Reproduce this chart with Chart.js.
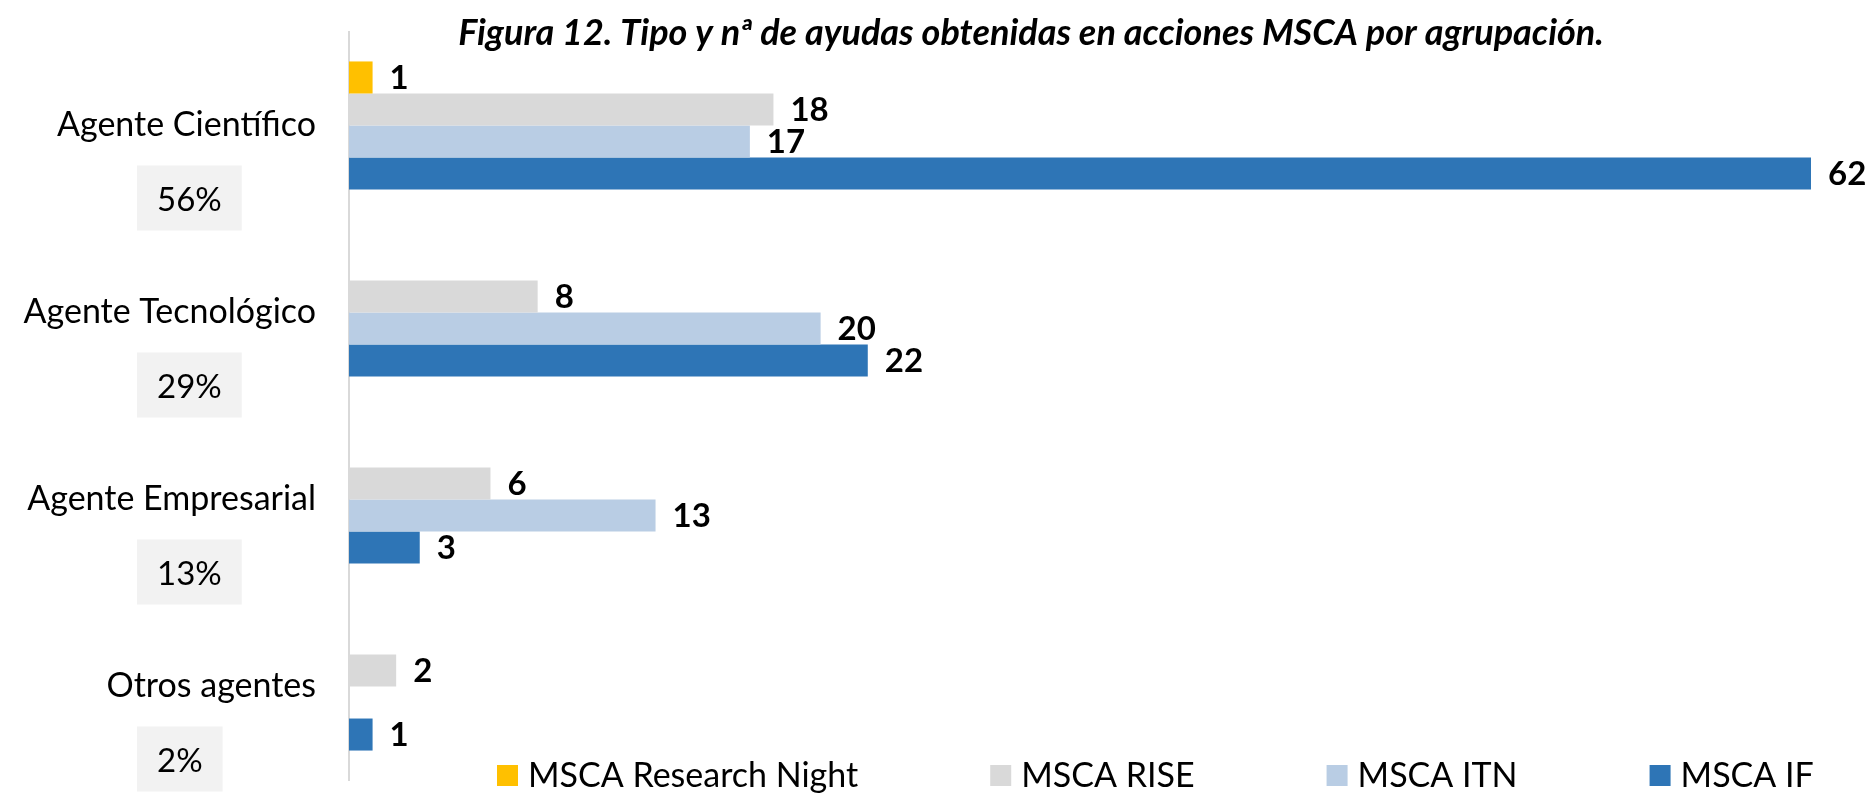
<!DOCTYPE html>
<html>
<head>
<meta charset="utf-8">
<script src="https://cdn.jsdelivr.net/npm/chart.js@4.4.0/dist/chart.umd.min.js"></script>
<style>
  html, body { margin: 0; padding: 0; background: #fff; }
</style>
</head>
<body>
<canvas id="myChart" width="1869" height="793"></canvas>
<script>
const categories = ["Agente Científico", "Agente Tecnológico", "Agente Empresarial", "Otros agentes"];
const shares = ["56%", "29%", "13%", "2%"];
const seriesNames = ["MSCA Research Night", "MSCA RISE", "MSCA ITN", "MSCA IF"];
const researchNight = [1, 0, 0, 0];
const rise = [18, 8, 6, 2];
const itn = [17, 20, 13, 0];
const ifGrants = [62, 22, 3, 1];
const colors = ['#FFC000', '#D9D9D9', '#B9CDE4', '#2E75B6'];
const chartTitle = "Figura 12. Tipo y nª de ayudas obtenidas en acciones MSCA por agrupación.";

const FONT = 'Lato';

// labels, share boxes, title and legend drawn on top of the chart
const extras = {
    id: 'extras',
    afterDraw(chart) {
        const ctx = chart.ctx;
        ctx.save();
        ctx.textBaseline = 'middle';

        // value labels
        ctx.font = 'bold 33px ' + FONT;
        ctx.fillStyle = '#000';
        ctx.textAlign = 'left';
        chart.data.datasets.forEach((ds, i) => {
            chart.getDatasetMeta(i).data.forEach((bar, j) => {
                if (!ds.data[j]) return;
                ctx.fillText(String(ds.data[j]), bar.x + 17, bar.y + 1);
            });
        });

        // share boxes under each category label
        const yScale = chart.scales.y;
        ctx.font = '33px ' + FONT;
        shares.forEach((s, j) => {
            const top = yScale.getPixelForValue(j) + 40;
            const w = ctx.measureText(s).width + 40;
            ctx.fillStyle = '#F2F2F2';
            ctx.fillRect(137, top, w, 65);
            ctx.fillStyle = '#000';
            ctx.textAlign = 'center';
            ctx.fillText(s, 137 + w / 2, top + 35);
        });

        // title
        ctx.font = 'italic bold 36px ' + FONT;
        ctx.textAlign = 'center';
        ctx.fillText(chartTitle, 1031, 33);

        // legend
        ctx.font = '34px ' + FONT;
        ctx.textAlign = 'left';
        let x = 497;
        chart.data.datasets.forEach((ds) => {
            ctx.fillStyle = ds.backgroundColor;
            ctx.fillRect(x, 765, 21, 21);
            ctx.fillStyle = '#000';
            ctx.fillText(ds.label, x + 31, 776);
            x += 31 + ctx.measureText(ds.label).width + 132;
        });
        ctx.restore();
    }
};

const ctx = document.getElementById('myChart');
const myChart = new Chart(ctx, {
    type: 'bar',
    data: {
        labels: categories,
        datasets: [
            { label: seriesNames[0], data: researchNight, backgroundColor: colors[0] },
            { label: seriesNames[1], data: rise, backgroundColor: colors[1] },
            { label: seriesNames[2], data: itn, backgroundColor: colors[2] },
            { label: seriesNames[3], data: ifGrants, backgroundColor: colors[3] }
        ]
    },
    options: {
        indexAxis: 'y',
        responsive: false,
        animation: false,
        devicePixelRatio: 1,
        categoryPercentage: 0.685,
        barPercentage: 1,
        layout: { padding: { top: 32, bottom: 13, left: 0, right: 58 } },
        plugins: {
            legend: { display: false },
            tooltip: { enabled: false }
        },
        scales: {
            x: { min: 0, max: 62, display: false },
            y: {
                grid: { display: false, drawTicks: false },
                border: { display: true, color: '#D9D9D9', width: 2 },
                ticks: { color: '#000', padding: 33, font: { family: FONT, size: 34 } },
                afterFit(scale) {
                    scale.width = 349;
                    scale.paddingTop = 0;
                    scale.paddingBottom = 0;
                }
            }
        }
    },
    plugins: [extras]
});
</script>
</body>
</html>
